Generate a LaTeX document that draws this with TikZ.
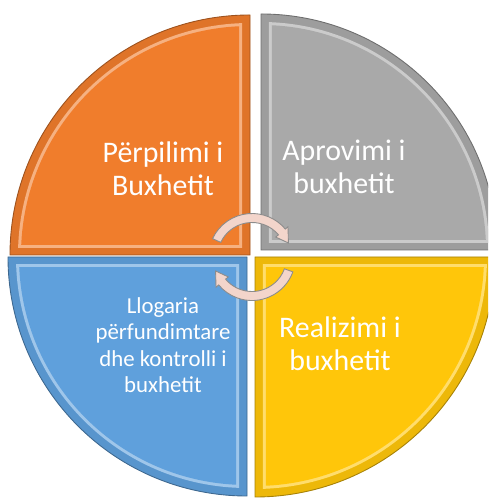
\documentclass[tikz,border=0pt]{standalone}
\usepackage{fontspec}
\setmainfont{Carlito}
\usetikzlibrary{calc}

\definecolor{pieceOrange}{HTML}{F07D2C}
\definecolor{pieceGray}{HTML}{A9A9A9}
\definecolor{pieceBlue}{HTML}{5FA0DC}
\definecolor{pieceYellow}{HTML}{FFC60A}
\definecolor{arrowPink}{HTML}{F3D5CB}

% one quarter: corner, radius, start angle, colour
\newcommand{\budgetpiece}[4]{%
  \fill[#4!93!black, draw=#4!65!black, line width=0.5pt]
    (#1) -- ++(#3:#2) arc[start angle=#3, delta angle=90, radius=#2] -- cycle;
  \begin{scope}
    \clip ($(#1)+(#3+45:11.3)$) rectangle ($(#1)+(#3+45:800)$);
    \fill[#4!60!white] (#1) circle[radius={#2-8}];
  \end{scope}
  \begin{scope}
    \clip ($(#1)+(#3+45:15.5)$) rectangle ($(#1)+(#3+45:800)$);
    \fill[#4] (#1) circle[radius={#2-11}];
  \end{scope}}

% one turning arrow: tail angle, head base angle, tip angle
\newcommand{\turnarrow}[3]{%
  \filldraw[turn]
    ($(ctr)+(#1:43.5)$) arc[start angle=#1, end angle=#2, radius=43.5]
    -- ($(ctr)+(#2:47)$) -- ($(ctr)+(#3:39)$) -- ($(ctr)+(#2:31)$)
    -- ($(ctr)+(#2:34.5)$) arc[start angle=#2, end angle=#1, radius=34.5]
    -- cycle;}

\begin{document}
\begin{tikzpicture}[x=0.02cm, y=0.02cm,
  label/.style={text=white, align=center, inner sep=0pt},
  big/.style={label, font=\fontsize{17}{19}\selectfont},
  small/.style={label, font=\fontsize{13}{15}\selectfont},
  turn/.style={fill=arrowPink, draw=black!45, line width=0.5pt}]

  \useasboundingbox (0,0) rectangle (488,502);
  \clip (0,0) rectangle (488,502);

  % quarters
  \budgetpiece{250,247}{240}{90}{pieceOrange}
  \budgetpiece{261,252}{236}{0}{pieceGray}
  \budgetpiece{247,245}{239}{180}{pieceBlue}
  \budgetpiece{255,245}{240}{270}{pieceYellow}

  % texts
  \node[big] (compile) at (163,333) {Përpilimi i\\Buxhetit};
  \node[big] (approve) at (344,335) {Aprovimi i\\buxhetit};
  \node[small] (final) at (163,157) {Llogaria\\përfundimtare\\dhe kontrolli i\\buxhetit};
  \node[big] (execute) at (340,158) {Realizimi i\\buxhetit};

  % cycle arrows
  \coordinate (ctr) at (252,245);
  \turnarrow{155}{40}{21}
  \turnarrow{340}{220}{201}
\end{tikzpicture}
\end{document}
